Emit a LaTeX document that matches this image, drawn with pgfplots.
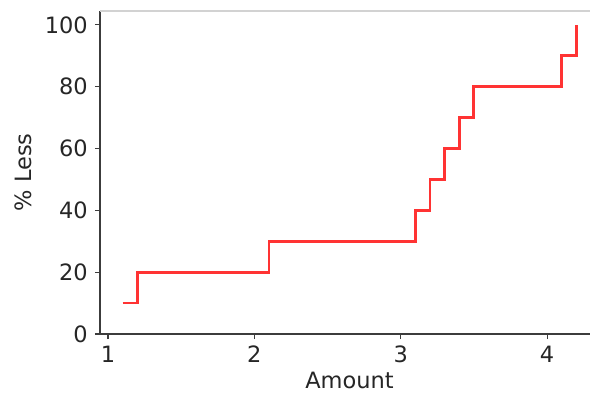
\documentclass[border=0pt]{standalone}
\usepackage{pgfplots}
\pgfplotsset{compat=1.18}
\usepackage{fontspec}
\setmainfont{DejaVu Sans}
\definecolor{stepred}{RGB}{255,51,51}
\definecolor{spine}{RGB}{60,60,60}
\definecolor{topspine}{RGB}{210,210,210}
\begin{document}
\begin{tikzpicture}
\begin{axis}[
  at={(0pt,0pt)}, anchor=south west,
  scale only axis,
  width=499pt, height=323pt,
  xmin=0.945, xmax=4.355,
  ymin=0, ymax=104.5,
  axis x line*=bottom,
  axis y line*=left,
  axis line style={spine, line width=1.2pt, -},
  xtick={1,2,3,4},
  ytick={0,20,40,60,80,100},
  tick align=outside,
  major tick length=5pt,
  tick style={spine, line width=1.1pt},
  /pgf/number format/assume math mode=true,
  ticklabel style={font=\fontsize{22.5}{26}\selectfont, text=black!85},
  xticklabel style={anchor=base, yshift=-23pt},
  yticklabel style={anchor=east, inner sep=0pt, xshift=-7pt},
  label style={font=\fontsize{22.5}{26}\selectfont, text=black!85},
  xlabel={Amount},
  ylabel={\% Less},
  xlabel style={at={(axis description cs:0.5,-0.1672)}, anchor=base},
  ylabel style={at={(axis description cs:-0.1363,0.5)}, anchor=base},
  clip=false,
]
\addplot[const plot mark left, color=stepred, line width=2.8pt, mark=none]
  coordinates {(1.1,10) (1.2,20) (2.1,30) (3.1,40) (3.2,50) (3.3,60) (3.4,70) (3.5,80) (4.1,90) (4.2,100)};
\draw[topspine, line width=1.2pt] (rel axis cs:0,1) -- (rel axis cs:1,1);
\end{axis}
\pgfresetboundingbox
\path (-100pt,-58pt) rectangle (490pt,334pt);
\end{tikzpicture}
\end{document}
